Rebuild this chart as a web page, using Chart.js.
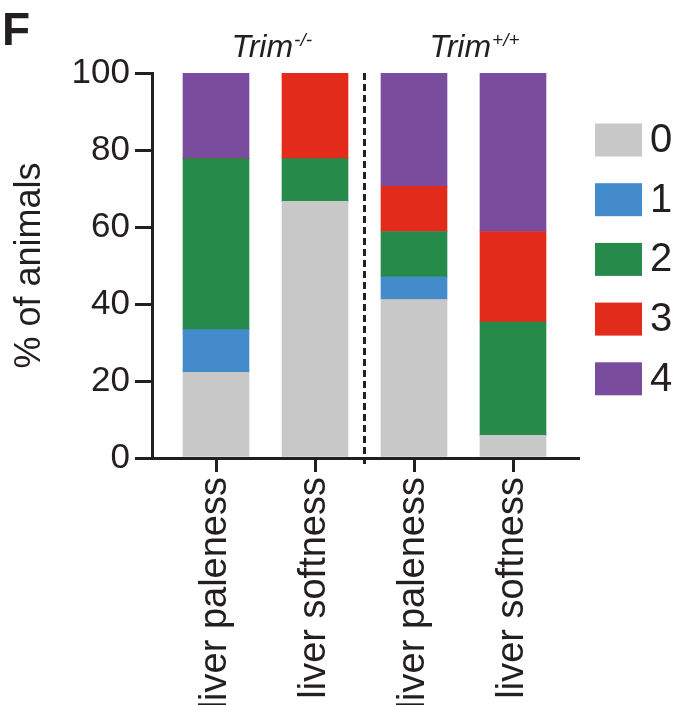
<!DOCTYPE html>
<html>
<head>
<meta charset="utf-8">
<script src="https://cdn.jsdelivr.net/npm/chart.js@4.4.1/dist/chart.umd.min.js"></script>
<style>
html, body { margin: 0; padding: 0; background: #fff; }
#wrap { width: 679px; height: 705px; }
</style>
</head>
<body>
<div id="wrap"><canvas id="chart"></canvas></div>
<script>
/* Liver scoring, % of animals per score */
const categories = ['liver paleness', 'liver softness', 'liver paleness', 'liver softness'];
const genotypes = [{ base: 'Trim', sup: '-/-' }, { base: 'Trim', sup: '+/+' }];
const scoreLabels = ['0', '1', '2', '3', '4'];
const score0 = [22.22, 66.67, 41.18, 5.88];
const score1 = [11.11, 0, 5.88, 0];
const score2 = [44.44, 11.11, 11.76, 29.41];
const score3 = [0, 22.22, 11.76, 23.53];
const score4 = [22.22, 0, 29.41, 41.18];
const yTicks = [0, 20, 40, 60, 80, 100];

const scoreColors = ['#c8c8c8', '#438bcb', '#268a4b', '#e32b1b', '#7a4c9d'];
const ink = '#231f20';
const FONT = '"Liberation Sans", Arial, Helvetica, sans-serif';

const series = [score0, score1, score2, score3, score4];
const datasets = series.map((vals, k) => ({
    label: scoreLabels[k],
    data: vals.map((v, i) => ({ x: i, y: v })),
    backgroundColor: scoreColors[k],
    borderWidth: 0,
    barThickness: 66
}));

// panel letter, genotype headers, divider, legend
const decor = {
    id: 'decor',
    afterDatasetsDraw(chart) {
        const { ctx, chartArea: a, scales: { x } } = chart;
        ctx.save();
        // dashed divider between the two genotypes
        const xd = x.getPixelForValue(1.5);
        ctx.strokeStyle = ink; ctx.lineWidth = 3; ctx.setLineDash([7, 4]);
        ctx.beginPath(); ctx.moveTo(xd, a.top); ctx.lineTo(xd, a.bottom + 6); ctx.stroke();
        ctx.setLineDash([]);
        ctx.restore();
    },
    afterDraw(chart) {
        const { ctx, scales: { x } } = chart;
        ctx.save();
        ctx.fillStyle = ink;
        ctx.textBaseline = 'alphabetic';
        ctx.textAlign = 'left';
        ctx.font = 'bold 46px ' + FONT;
        ctx.fillText('F', 2, 45);
        genotypes.forEach((g, i) => {
            const mid = x.getPixelForValue(i * 2 + 0.5);
            ctx.font = 'italic 32px "Liberation Sans Narrow", ' + FONT;
            const x0 = mid - 34;
            ctx.fillText(g.base, x0, 57);
            const w = ctx.measureText(g.base).width;
            ctx.font = 'italic 19px "Liberation Sans Narrow", ' + FONT;
            ctx.fillText(g.sup, x0 + w + 1, 46);
        });
        // legend
        ctx.font = '40px ' + FONT;
        ctx.textBaseline = 'middle';
        chart.data.datasets.forEach((ds, k) => {
            const yc = 140 + k * 59.7;
            ctx.fillStyle = ds.backgroundColor;
            ctx.fillRect(595, yc - 16.5, 47, 33);
            ctx.fillStyle = ink;
            ctx.fillText(ds.label, 650, yc + 1);
        });
        ctx.restore();
    }
};

new Chart(document.getElementById('chart'), {
    type: 'bar',
    data: { datasets },
    options: {
        responsive: true,
        maintainAspectRatio: false,
        animation: false,
        layout: { padding: { top: 73, right: 101, left: 0, bottom: 0 } },
        plugins: { legend: { display: false }, tooltip: { enabled: false } },
        scales: {
            x: {
                type: 'linear', stacked: true, offset: false,
                min: -64 / 99, max: 3 + 65 / 99,
                afterBuildTicks: s => { s.ticks = categories.map((c, i) => ({ value: i })); },
                afterFit: s => { s.height = 247; },
                ticks: {
                    callback: v => categories[v], autoSkip: false,
                    maxRotation: 90, minRotation: 90, padding: 5,
                    color: ink, font: { family: FONT, size: 38 }
                },
                grid: { drawOnChartArea: false, offset: false, tickLength: 14, lineWidth: 3, color: ink },
                border: { width: 3, color: ink }
            },
            y: {
                stacked: true, min: 0, max: 100,
                afterBuildTicks: s => { s.ticks = yTicks.map(v => ({ value: v })); },
                afterFit: s => { s.width = 152; },
                ticks: { padding: 5, color: ink, font: { family: FONT, size: 35 } },
                grid: { drawOnChartArea: false, tickLength: 17, lineWidth: 3, color: ink },
                border: { width: 3, color: ink },
                title: { display: true, text: '% of animals', color: ink, font: { family: FONT, size: 36 }, padding: { top: 8, bottom: 0 } }
            }
        }
    },
    plugins: [decor]
});
</script>
</body>
</html>
